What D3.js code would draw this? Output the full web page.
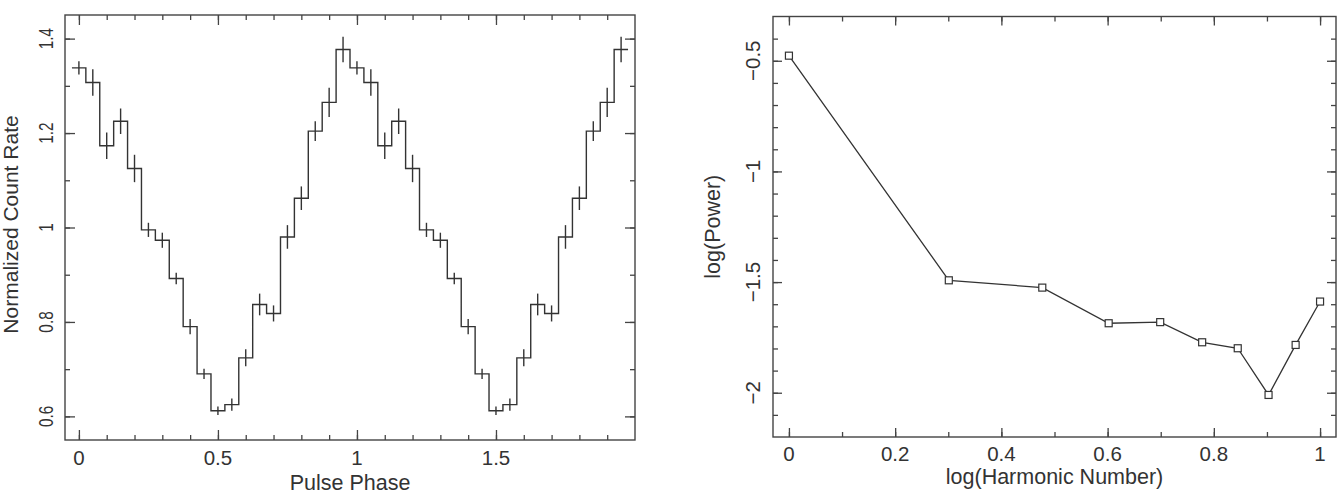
<!DOCTYPE html>
<html>
<head>
<meta charset="utf-8">
<script src="https://cdn.jsdelivr.net/npm/d3@7"></script>
<style>
  body { margin: 0; background: #fff; }
  svg { display: block; }
  text { font-family: "Liberation Sans", Arial, sans-serif; fill: #333; }
  .domain { display: none; }
  .tick line { stroke: #444; stroke-width: 1.3; }
</style>
</head>
<body>
<svg width="1342" height="496"></svg>
<script>
// pulse profile, two cycles, bin width 0.05
var phase = [0, 0.05, 0.1, 0.15, 0.2, 0.25, 0.3, 0.35, 0.4, 0.45, 0.5, 0.55, 0.6, 0.65, 0.7, 0.75, 0.8, 0.85, 0.9, 0.95,
             1, 1.05, 1.1, 1.15, 1.2, 1.25, 1.3, 1.35, 1.4, 1.45, 1.5, 1.55, 1.6, 1.65, 1.7, 1.75, 1.8, 1.85, 1.9, 1.95];
var rate = [1.338, 1.307, 1.173, 1.225, 1.125, 0.995, 0.973, 0.892, 0.790, 0.690, 0.612, 0.625, 0.724, 0.837, 0.818, 0.980, 1.062, 1.204, 1.265, 1.377,
            1.338, 1.307, 1.173, 1.225, 1.125, 0.995, 0.973, 0.892, 0.790, 0.690, 0.612, 0.625, 0.724, 0.837, 0.818, 0.980, 1.062, 1.204, 1.265, 1.377];
var rateErr = [0.014, 0.028, 0.028, 0.027, 0.029, 0.015, 0.016, 0.012, 0.016, 0.011, 0.009, 0.013, 0.018, 0.023, 0.017, 0.025, 0.025, 0.021, 0.031, 0.027,
               0.014, 0.028, 0.028, 0.027, 0.029, 0.015, 0.016, 0.012, 0.016, 0.011, 0.009, 0.013, 0.018, 0.023, 0.017, 0.025, 0.025, 0.021, 0.031, 0.027];
var binWidth = 0.05;

// power spectrum of harmonics
var logHarmonic = [0, 0.301, 0.477, 0.602, 0.699, 0.778, 0.845, 0.903, 0.954, 1.0];
var logPower = [-0.477, -1.492, -1.525, -1.686, -1.681, -1.772, -1.799, -2.010, -1.784, -1.588];

var leftXTicks = [0, 0.5, 1, 1.5];
var leftYTicks = [0.6, 0.8, 1, 1.2, 1.4];
var rightXTicks = [0, 0.2, 0.4, 0.6, 0.8, 1];
var rightYTicks = [-2, -1.5, -1, -0.5];

var svg = d3.select("svg");
var ink = "#333";

// text placed at (x,y); sx/sy stretch it on screen after rotating
function label(x, y, str, size, rot, sx, sy) {
    svg.append("text")
        .attr("transform", "translate(" + x + "," + y + ") scale(" + (sx || 1) + "," + (sy || 1) + ")" + (rot ? " rotate(" + rot + ")" : ""))
        .attr("text-anchor", "middle")
        .style("font-size", size + "px")
        .text(str);
}
function fmt(v) { return String(v).replace("-", "\u2212"); }

function frame(x, y, L, R, T, B, xMinor, yMinor, xMajor, yMajor, tl) {
    var g = svg.append("g");
    g.append("rect").attr("x", L).attr("y", T).attr("width", R - L).attr("height", B - T)
        .attr("fill", "none").attr("stroke", "#444").attr("stroke-width", 1.4);
    var nf = "";
    g.append("g").attr("transform", "translate(0," + B + ")").call(d3.axisBottom(x).tickValues(xMinor).tickSize(-tl[1]).tickFormat(nf));
    g.append("g").attr("transform", "translate(0," + B + ")").call(d3.axisBottom(x).tickValues(xMajor).tickSize(-tl[0]).tickFormat(nf));
    g.append("g").attr("transform", "translate(0," + T + ")").call(d3.axisTop(x).tickValues(xMinor).tickSize(-tl[1]).tickFormat(nf));
    g.append("g").attr("transform", "translate(0," + T + ")").call(d3.axisTop(x).tickValues(xMajor).tickSize(-tl[0]).tickFormat(nf));
    g.append("g").attr("transform", "translate(" + L + ",0)").call(d3.axisLeft(y).tickValues(yMinor).tickSize(-tl[1]).tickFormat(nf));
    g.append("g").attr("transform", "translate(" + L + ",0)").call(d3.axisLeft(y).tickValues(yMajor).tickSize(-tl[0]).tickFormat(nf));
    g.append("g").attr("transform", "translate(" + R + ",0)").call(d3.axisRight(y).tickValues(yMinor).tickSize(-tl[1]).tickFormat(nf));
    g.append("g").attr("transform", "translate(" + R + ",0)").call(d3.axisRight(y).tickValues(yMajor).tickSize(-tl[0]).tickFormat(nf));
}

// ---------- left panel ----------
var L1 = 65, R1 = 635, T1 = 15, B1 = 440;
var x1 = d3.scaleLinear().domain([-0.05, 2.0]).range([L1, R1]);
var y1 = d3.scaleLinear().domain([0.55, 1.45]).range([B1, T1]);

frame(x1, y1, L1, R1, T1, B1,
    d3.range(0, 20).map(function (i) { return i / 10; }),
    d3.range(6, 15).map(function (i) { return i / 10; }),
    leftXTicks, leftYTicks, [10, 5]);

var steps = [];
phase.forEach(function (p, i) {
    steps.push([p - binWidth / 2, rate[i]]);
    steps.push([p + binWidth / 2, rate[i]]);
});
svg.append("path")
    .attr("d", d3.line().x(function (d) { return x1(d[0]); }).y(function (d) { return y1(d[1]); })(steps))
    .attr("fill", "none").attr("stroke", ink).attr("stroke-width", 1.4);

svg.append("g").selectAll("line").data(phase).enter().append("line")
    .attr("x1", function (d) { return x1(d); })
    .attr("x2", function (d) { return x1(d); })
    .attr("y1", function (d, i) { return y1(rate[i] - rateErr[i]); })
    .attr("y2", function (d, i) { return y1(rate[i] + rateErr[i]); })
    .attr("stroke", ink).attr("stroke-width", 1.4);

leftXTicks.forEach(function (v) { label(x1(v), 465, fmt(v), 20.5); });
leftYTicks.forEach(function (v) { label(53, y1(v), fmt(v), 20.5, -90, 1, 0.75); });
label((L1 + R1) / 2, 490, "Pulse Phase", 21.5);
label(18, (T1 + B1) / 2 - 3, "Normalized Count Rate", 21, -90);

// ---------- right panel ----------
var L2 = 773, R2 = 1336, T2 = 16.5, B2 = 437;
var x2 = d3.scaleLinear().domain([-0.03, 1.03]).range([L2, R2]);
var y2 = d3.scaleLinear().domain([-2.2, -0.3]).range([B2, T2]);

frame(x2, y2, L2, R2, T2, B2,
    d3.range(0, 11).map(function (i) { return i / 10; }),
    d3.range(-21, -3).map(function (i) { return i / 10; }),
    rightXTicks, rightYTicks, [9, 5]);

svg.append("path")
    .attr("d", d3.line().x(function (d, i) { return x2(d); }).y(function (d, i) { return y2(logPower[i]); })(logHarmonic))
    .attr("fill", "none").attr("stroke", ink).attr("stroke-width", 1.3);

svg.append("g").selectAll("rect").data(logHarmonic).enter().append("rect")
    .attr("x", function (d) { return x2(d) - 3.5; })
    .attr("y", function (d, i) { return y2(logPower[i]) - 3.5; })
    .attr("width", 7).attr("height", 7)
    .attr("fill", "#fff").attr("stroke", ink).attr("stroke-width", 1.2);

rightXTicks.forEach(function (v) { label(x2(v), 461, fmt(v), 20.5); });
rightYTicks.forEach(function (v) { label(760, y2(v), fmt(v), 20.5, -90); });
label((L2 + R2) / 2, 484, "log(Harmonic Number)", 21.5);
label(720, (T2 + B2) / 2, "log(Power)", 21.5, -90);
</script>
</body>
</html>
